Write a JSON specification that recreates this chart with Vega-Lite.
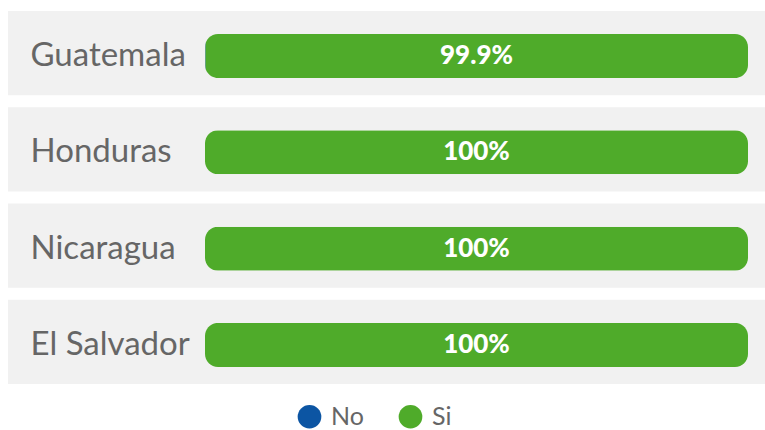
{
  "$schema": "https://vega.github.io/schema/vega-lite/v6.json",
  "width": 757,
  "height": 373,
  "padding": {"left": 8, "top": 11, "right": 0, "bottom": 0},
  "autosize": {"type": "pad"},
  "background": "white",
  "config": {"view": {"stroke": null}, "font": "Lato"},
  "data": {
    "values": [
      {"pais": "Guatemala", "respuesta": "No", "pct": 0.001},
      {"pais": "Guatemala", "respuesta": "Si", "pct": 0.999},
      {"pais": "Honduras", "respuesta": "No", "pct": 0},
      {"pais": "Honduras", "respuesta": "Si", "pct": 1},
      {"pais": "Nicaragua", "respuesta": "No", "pct": 0},
      {"pais": "Nicaragua", "respuesta": "Si", "pct": 1},
      {"pais": "El Salvador", "respuesta": "No", "pct": 0},
      {"pais": "El Salvador", "respuesta": "Si", "pct": 1}
    ]
  },
  "encoding": {
    "y": {
      "field": "pais",
      "type": "nominal",
      "sort": ["Guatemala", "Honduras", "Nicaragua", "El Salvador"],
      "scale": {"paddingInner": 0.125, "paddingOuter": 0},
      "axis": {
        "title": null,
        "domain": false,
        "ticks": false,
        "labelAlign": "left",
        "labelPadding": -22,
        "labelFontSize": 33,
        "labelOffset": 3,
        "labelColor": "#666666",
        "labelFont": "Lato",
        "zindex": 1
      }
    }
  },
  "layer": [
    {
      "transform": [{"filter": "datum.respuesta === 'Si'"}],
      "mark": {"type": "bar", "color": "#f1f1f1"},
      "encoding": {
        "x": {"value": 0},
        "x2": {"value": "width"}
      }
    },
    {
      "mark": {"type": "bar", "size": 44, "cornerRadius": 13, "yOffset": 3},
      "encoding": {
        "x": {
          "field": "pct",
          "type": "quantitative",
          "stack": "zero",
          "scale": {"domain": [-0.3628, 1.0313], "nice": false, "zero": false},
          "axis": null
        },
        "color": {
          "field": "respuesta",
          "type": "nominal",
          "scale": {"domain": ["No", "Si"], "range": ["#0c55a3", "#4fab2a"]},
          "legend": {
            "title": null,
            "orient": "none",
            "legendX": 289,
            "legendY": 393,
            "direction": "horizontal",
            "symbolType": "circle",
            "symbolSize": 560,
            "symbolStrokeWidth": 0,
            "symbolOpacity": 1,
            "labelFontSize": 25,
            "labelColor": "#666666",
            "labelFont": "Lato",
            "columnPadding": 34,
            "labelOffset": 9
          }
        },
        "order": {"field": "respuesta", "sort": "ascending"}
      }
    },
    {
      "transform": [{"filter": "datum.respuesta === 'Si'"}],
      "mark": {"type": "text", "color": "white", "fontWeight": 900, "fontSize": 26, "font": "Lato", "align": "center", "baseline": "middle", "yOffset": 3},
      "encoding": {
        "x": {"datum": 0.5},
        "text": {"field": "pct", "type": "quantitative", "format": ".1~%"}
      }
    }
  ]
}
